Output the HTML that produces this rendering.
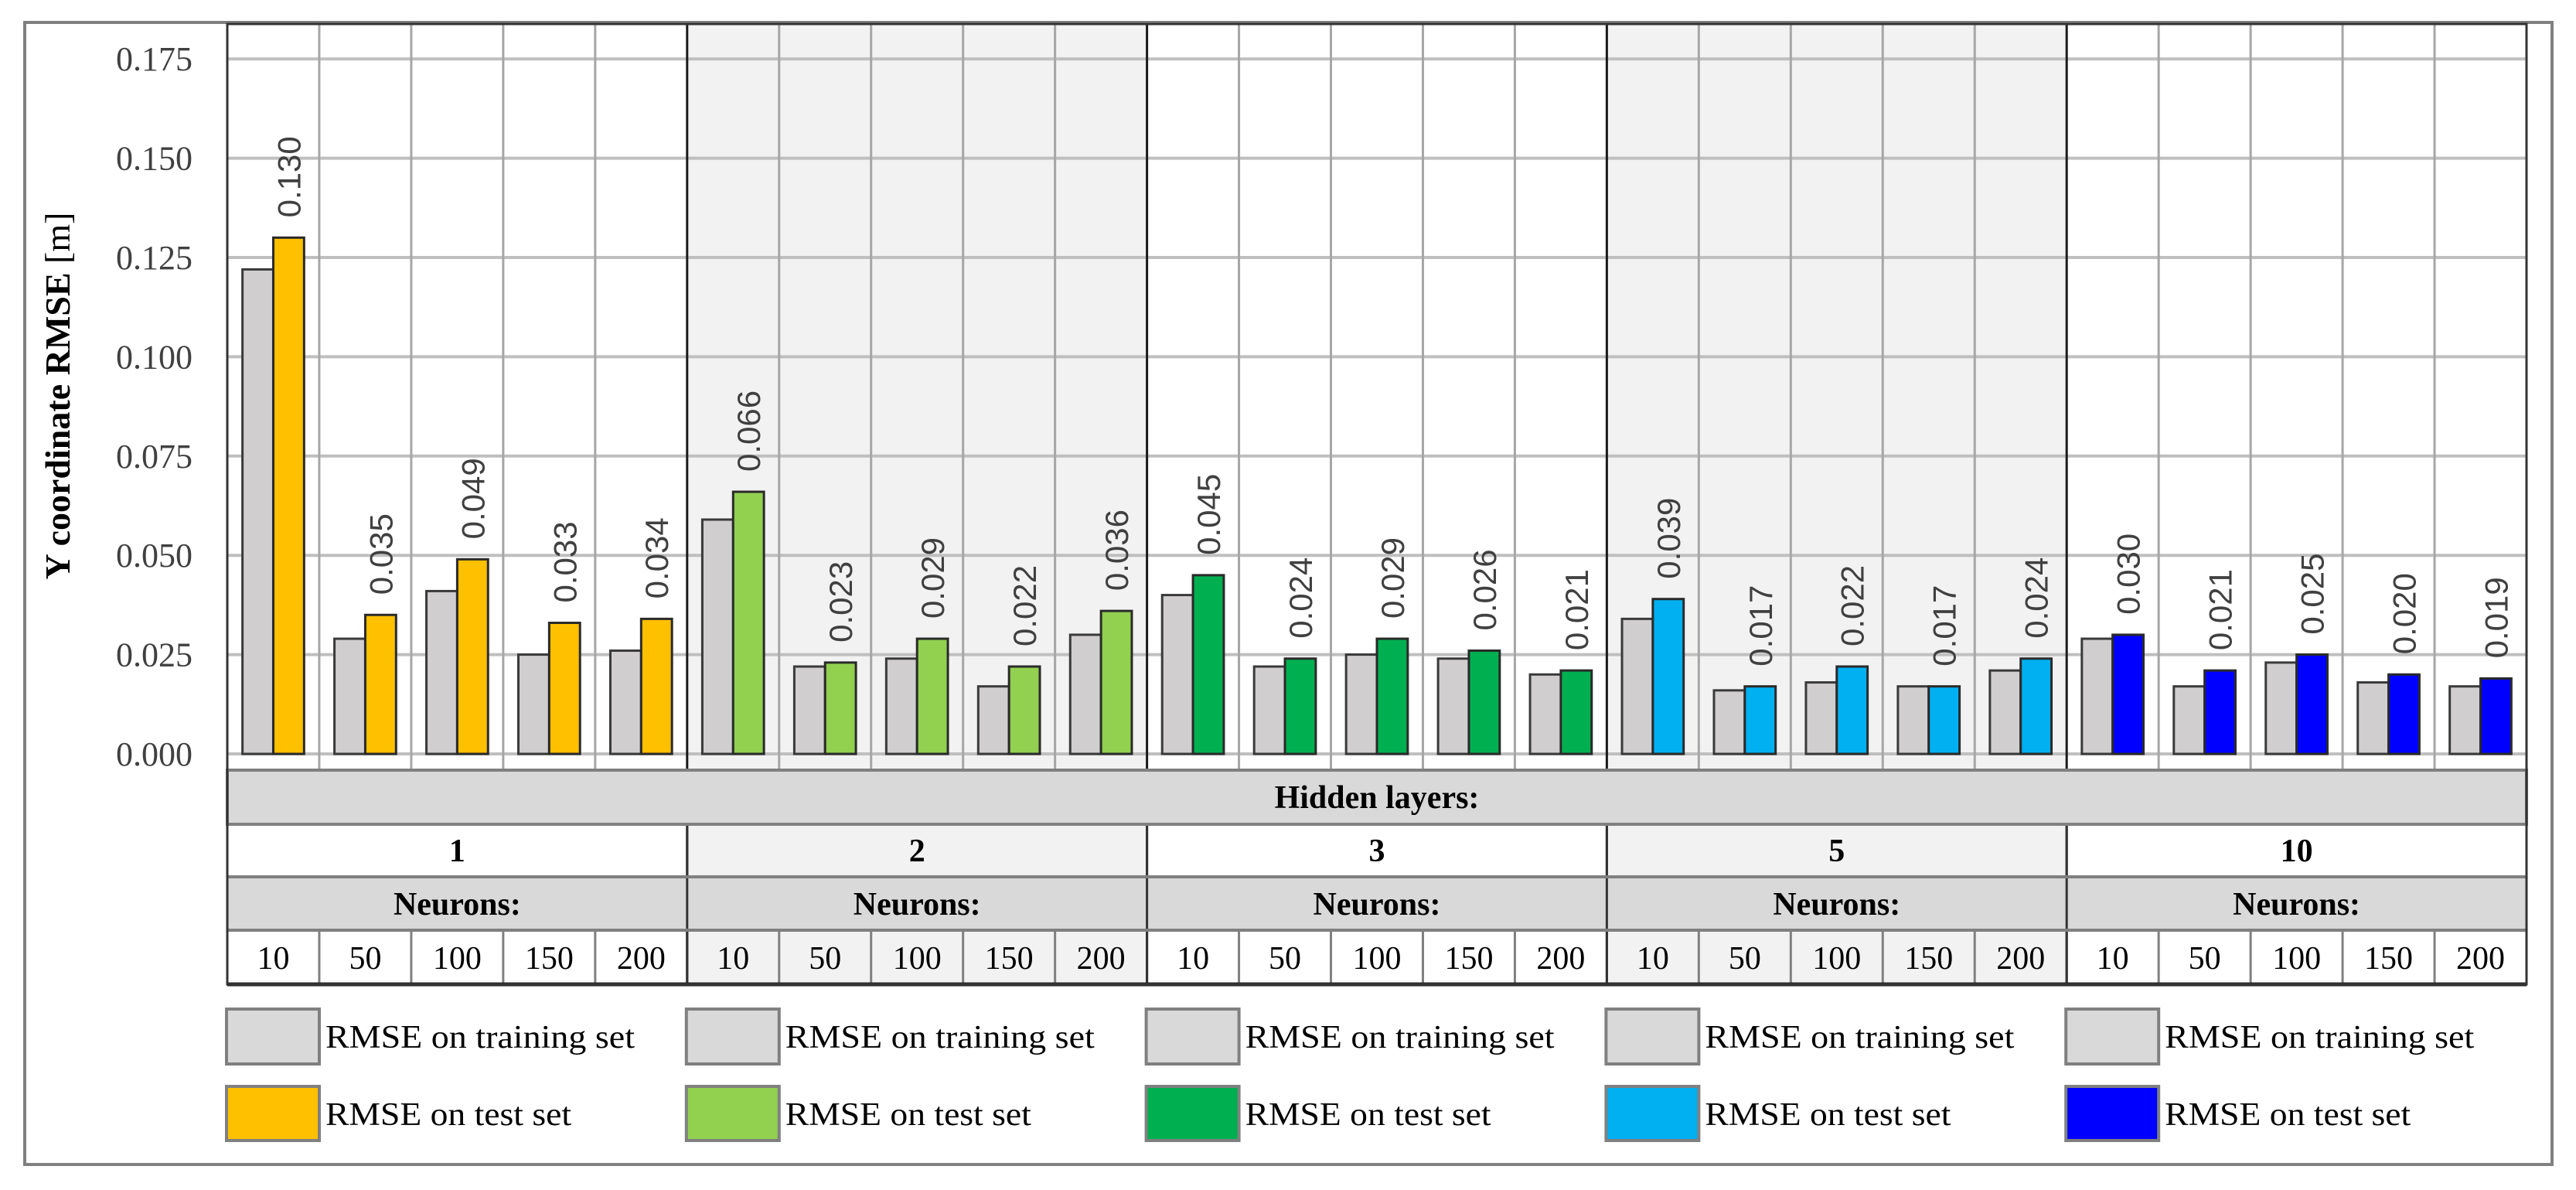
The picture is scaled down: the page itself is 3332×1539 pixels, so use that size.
<!DOCTYPE html>
<html><head><meta charset="utf-8"><style>
html,body{margin:0;padding:0;background:#fff;}
svg{display:block;}
</style></head><body>
<svg id="chart" xmlns="http://www.w3.org/2000/svg" width="3332" height="1539" viewBox="0 0 3332 1539">
<rect x="32" y="29" width="3269" height="1477" fill="#fff" stroke="#808080" stroke-width="4"/>
<g id="bg"></g><g id="grid"></g><g id="bars"></g><g id="table"></g><g id="legend"></g>
<text transform="translate(90,512) rotate(-90)" text-anchor="middle" font-family="Liberation Serif, serif" font-size="46" font-weight="bold" fill="#000">Y coordinate RMSE <tspan font-weight="normal">[m]</tspan></text>
</svg>
<script>
const groups = ['1','2','3','5','10'];
const neurons = ['10','50','100','150','200'];
const trainValues = [
 [0.122,0.029,0.041,0.025,0.026],
 [0.059,0.022,0.024,0.017,0.030],
 [0.040,0.022,0.025,0.024,0.020],
 [0.034,0.016,0.018,0.017,0.021],
 [0.029,0.017,0.023,0.018,0.017]
];
const testValues = [
 [0.130,0.035,0.049,0.033,0.034],
 [0.066,0.023,0.029,0.022,0.036],
 [0.045,0.024,0.029,0.026,0.021],
 [0.039,0.017,0.022,0.017,0.024],
 [0.030,0.021,0.025,0.020,0.019]
];
const yTicks = [0,0.025,0.05,0.075,0.1,0.125,0.15,0.175];
const testColors = ['#FFC000','#92D050','#00B050','#00B0F0','#0000FF'];

const NS='http://www.w3.org/2000/svg';
const PL=294, PR=3268, PT=31, PB=996;
const GW=(PR-PL)/groups.length, CW=GW/neurons.length;
function y(v){return 975 - v/0.025*128.4;}
function gx(g){return PL+g*GW;}
function mk(parent,tag,attrs,text){const e=document.createElementNS(NS,tag);for(const k in attrs)e.setAttribute(k,attrs[k]);if(text!==undefined)e.textContent=text;document.getElementById(parent).appendChild(e);return e;}

// backgrounds
groups.forEach((g,i)=>{
 const r=mk('bg','rect',{x:gx(i),y:PT,width:GW,height:1273-PT,fill:i%2?'#F2F2F2':'#FFFFFF'});
 
 
});
// horizontal grid + tick labels
yTicks.forEach(t=>{
 const l=mk('grid','line',{x1:PL,x2:PR,y1:y(t),y2:y(t),stroke:'#BFBFBF','stroke-width':4});
 
 
 const tx=mk('grid','text',{x:249,y:y(t)+15,'text-anchor':'end','font-family':'Liberation Serif, serif','font-size':44,fill:'#404040'},t.toFixed(3));
 
 
});
// vertical lines
for(let g=0;g<groups.length;g++){for(let c=1;c<neurons.length;c++){
 const x=gx(g)+c*CW;
 const l=mk('grid','line',{x1:x,x2:x,y1:PT,y2:PB,stroke:'#A6A6A6','stroke-width':3});
 
 
}}
// bars
groups.forEach((g,gi)=>{neurons.forEach((n,ni)=>{
 const cx=gx(gi)+ni*CW, bw=CW*0.335, x0=cx+CW*0.165;
 const tr=trainValues[gi][ni], te=testValues[gi][ni];
 const b1=mk('bars','rect',{x:x0,y:y(tr),width:bw,height:y(0)-y(tr),fill:'#D0CECE',stroke:'#3a3a3a','stroke-width':3});
 
 
 const b2=mk('bars','rect',{x:x0+bw,y:y(te),width:bw,height:y(0)-y(te),fill:testColors[gi],stroke:'#2a2a2a','stroke-width':3});
 
 
 const lx=x0+bw*1.5+15, ly=y(te)-26;
 const lb=mk('bars','text',{x:lx,y:ly,transform:'rotate(-90 '+lx+' '+ly+')','font-family':'Liberation Sans, sans-serif','font-size':42,fill:'#404040'},te.toFixed(3));
 
 
});});
// group separators in plot
for(let g=1;g<groups.length;g++){
 const l=mk('grid','line',{x1:gx(g),x2:gx(g),y1:PT,y2:1273,stroke:'#1a1a1a','stroke-width':3});
 
 
}
// table
const T='table';
let r=mk(T,'rect',{x:PL,y:PB,width:PR-PL,height:70,fill:'#D9D9D9',stroke:'#808080','stroke-width':4});


let t=mk(T,'text',{x:(PL+PR)/2,y:1045,'text-anchor':'middle','font-family':'Liberation Serif, serif','font-size':42,'font-weight':'bold'},'Hidden layers:');


groups.forEach((g,gi)=>{
 const x=gx(gi);
 let rr=mk(T,'rect',{x:x,y:1134,width:GW,height:69,fill:'#D9D9D9'});
 
 
 let a=mk(T,'text',{x:x+GW/2,y:1114,'text-anchor':'middle','font-family':'Liberation Serif, serif','font-size':42,'font-weight':'bold'},g);
 
 
 let b=mk(T,'text',{x:x+GW/2,y:1183,'text-anchor':'middle','font-family':'Liberation Serif, serif','font-size':42,'font-weight':'bold'},'Neurons:');
 
 
 neurons.forEach((n,ni)=>{
  const c=mk(T,'text',{x:x+ni*CW+CW/2,y:1253,'text-anchor':'middle','font-family':'Liberation Serif, serif','font-size':42},n);
  
  
  if(ni>0){const l=mk(T,'line',{x1:x+ni*CW,x2:x+ni*CW,y1:1203,y2:1273,stroke:'#808080','stroke-width':3});
  
  }
 });
 if(gi>0){const l=mk(T,'line',{x1:x,x2:x,y1:1066,y2:1273,stroke:'#333','stroke-width':3});
 
 }
});
[1066,1134,1203].forEach(yy=>{const l=mk(T,'line',{x1:PL,x2:PR,y1:yy,y2:yy,stroke:'#808080','stroke-width':4});
 
 });
let bl=mk(T,'line',{x1:PL,x2:PR,y1:1273,y2:1273,stroke:'#262626','stroke-width':5});


let fr=mk(T,'rect',{x:PL,y:PT,width:PR-PL,height:1273-PT,fill:'none',stroke:'#333','stroke-width':3});


// legend
groups.forEach((g,gi)=>{
 const x=gx(gi)-1;
 let s1=mk('legend','rect',{x:x,y:1305,width:120,height:71,fill:'#D9D9D9',stroke:'#808080','stroke-width':4});
 
 
 let t1=mk('legend','text',{x:x+128,y:1355,'font-family':'Liberation Serif, serif','font-size':42,textLength:400,lengthAdjust:'spacingAndGlyphs'},'RMSE on training set');
 
 
 let s2=mk('legend','rect',{x:x,y:1405,width:120,height:70,fill:testColors[gi],stroke:'#808080','stroke-width':4});
 
 
 let t2=mk('legend','text',{x:x+128,y:1455,'font-family':'Liberation Serif, serif','font-size':42,textLength:318,lengthAdjust:'spacingAndGlyphs'},'RMSE on test set');
 
 
});
</script>
</body></html>
